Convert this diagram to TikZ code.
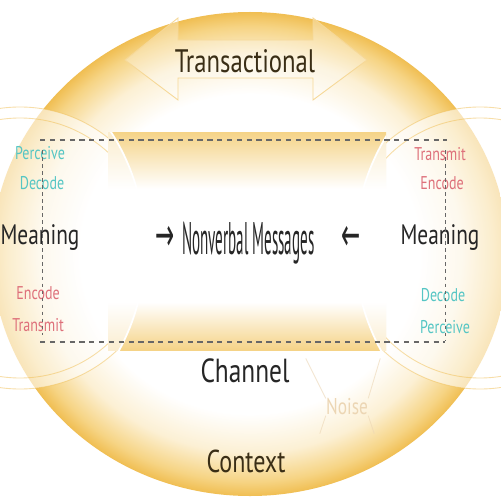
\documentclass[tikz,border=0pt]{standalone}
\usepackage{fontspec}
\setmainfont{PT Sans}
\newfontfamily\labelfont[FakeStretch=0.76]{PT Sans}
\newfontfamily\msgfont[FakeStretch=0.33]{PT Sans}
\newfontfamily\arrowfont[FakeStretch=0.5]{DejaVu Sans}
\usetikzlibrary{positioning}
\definecolor{ctxorange}{RGB}{240,190,82}
\definecolor{ctxmid}{RGB}{246,212,132}
\definecolor{ctxpale}{RGB}{252,240,212}
\definecolor{chorange}{RGB}{245,211,135}
\definecolor{darktext}{RGB}{38,38,38}
\definecolor{browntext}{RGB}{58,46,22}
\definecolor{sendpink}{RGB}{222,112,122}
\definecolor{takecyan}{RGB}{86,198,196}
\definecolor{noisetan}{RGB}{236,214,180}
\pgfdeclareradialshading{contextglow}{\pgfpoint{0bp}{0bp}}{color(0bp)=(white); color(16.5bp)=(white); color(20.5bp)=(ctxpale); color(23.5bp)=(ctxmid); color(25bp)=(ctxorange); color(50bp)=(ctxorange)}
\pgfdeclareverticalshading{channelband}{100bp}{color(0bp)=(chorange); color(25bp)=(chorange); color(36bp)=(white); color(62bp)=(white); color(75bp)=(chorange); color(100bp)=(chorange)}

\begin{document}
\begin{tikzpicture}[x=0.02cm,y=-0.02cm]
\tikzstyle{word}=[inner sep=0pt,text=darktext,font=\labelfont\fontsize{16}{18}\selectfont]
\tikzstyle{sendword}=[inner sep=0pt,text=sendpink,font=\labelfont\fontsize{10.5}{12}\selectfont]
\tikzstyle{takeword}=[sendword,text=takecyan]
\tikzstyle{border}=[dash pattern=on 3pt off 2.6pt,line width=0.7pt,draw=darktext!70]
\tikzstyle{ring}=[draw=ctxorange,line width=0.5pt,opacity=0.5]
\tikzstyle{noiseline}=[draw=noisetan,line width=0.5pt,opacity=0.6]
\tikzstyle{arrowglyph}=[inner sep=0pt,text=darktext,font=\arrowfont\fontsize{26}{28}\selectfont]
\useasboundingbox[fill=white] (0,0) rectangle (500,500);
\shade[shading=contextglow] (250,254) ellipse [x radius=258,y radius=242];
\fill[white,opacity=0.6] (20,248) circle [radius=141] (480,248) circle [radius=141];
\draw[ring] (20,248) circle [radius=141] (20,248) circle [radius=130];
\draw[ring] (480,248) circle [radius=141] (480,248) circle [radius=130];
\shade[shading=channelband] (108,132) rectangle (386,350);
\begin{scope}
\clip (108,132) rectangle (386,350);
\fill[white,opacity=0.6] (-70,248) circle [radius=215];
\fill[white,opacity=0.6] (570,248) circle [radius=215];
\draw[white,line width=1pt] (-70,248) circle [radius=215] (570,248) circle [radius=215];
\end{scope}
\draw[draw=ctxorange!60,fill=white,fill opacity=0.3,line width=0.5pt]
    (125,60) -- (178,18) -- (178,40) -- (313,40) -- (313,18) -- (367,60)
    -- (313,100) -- (313,78) -- (178,78) -- (178,100) -- cycle;
\node[word,text=browntext,font=\labelfont\fontsize{18.5}{20}\selectfont] at(245, 61) (transactional) {Transactional};
\node[takeword] at(40, 153) (lperceive) {Perceive};
\node[takeword] at(42, 183) (ldecode) {Decode};
\node[word] at(40, 238) (lmeaning) {Meaning};
\node[sendword] at(38, 293) (lencode) {Encode};
\node[sendword] at(38, 325) (ltransmit) {Transmit};
\node[sendword] at(440, 154) (rtransmit) {Transmit};
\node[sendword] at(442, 183) (rencode) {Encode};
\node[word] at(440, 238) (rmeaning) {Meaning};
\node[takeword] at(443, 295) (rdecode) {Decode};
\node[takeword] at(445, 327) (rperceive) {Perceive};
\node[arrowglyph] at(165, 238) (inarrow) {→};
\node[inner sep=0pt,text=darktext,font=\msgfont\fontsize{26}{28}\selectfont,right=4pt of inarrow,yshift=-3pt] (messages) {Nonverbal Messages};
\node[arrowglyph] at(351, 238) (outarrow) {←};
\node[word,font=\labelfont\fontsize{19}{21}\selectfont] at(245, 371) (channel) {Channel};
\node[word,text=noisetan,font=\labelfont\fontsize{13}{15}\selectfont] at(347, 407) (noise) {Noise};
\node[word,text=browntext,font=\labelfont\fontsize{18}{20}\selectfont] at(246, 461) (context) {Context};
\draw[noiseline] (noise.north west) -- ++(-20,-40);
\draw[noiseline] (noise.north east) -- ++(12,-40);
\draw[noiseline] (noise.south west) -- ++(-6,18);
\draw[noiseline] (noise.south east) -- ++(6,18);
\coordinate (topleft) at(40, 140);
\coordinate (topright) at(447, 140);
\coordinate (botleft) at(40, 342);
\coordinate (botright) at(445, 342);
\draw[border] (topleft) -- (topright);
\draw[border] (botleft) -- (botright);
\draw[border,dash pattern=on 2pt off 2pt,line width=0.5pt] (42,150) -- (42,335);
\draw[border,dash pattern=on 2pt off 2pt,line width=0.5pt] (445,150) -- (445,340);
\end{tikzpicture}
\end{document}
